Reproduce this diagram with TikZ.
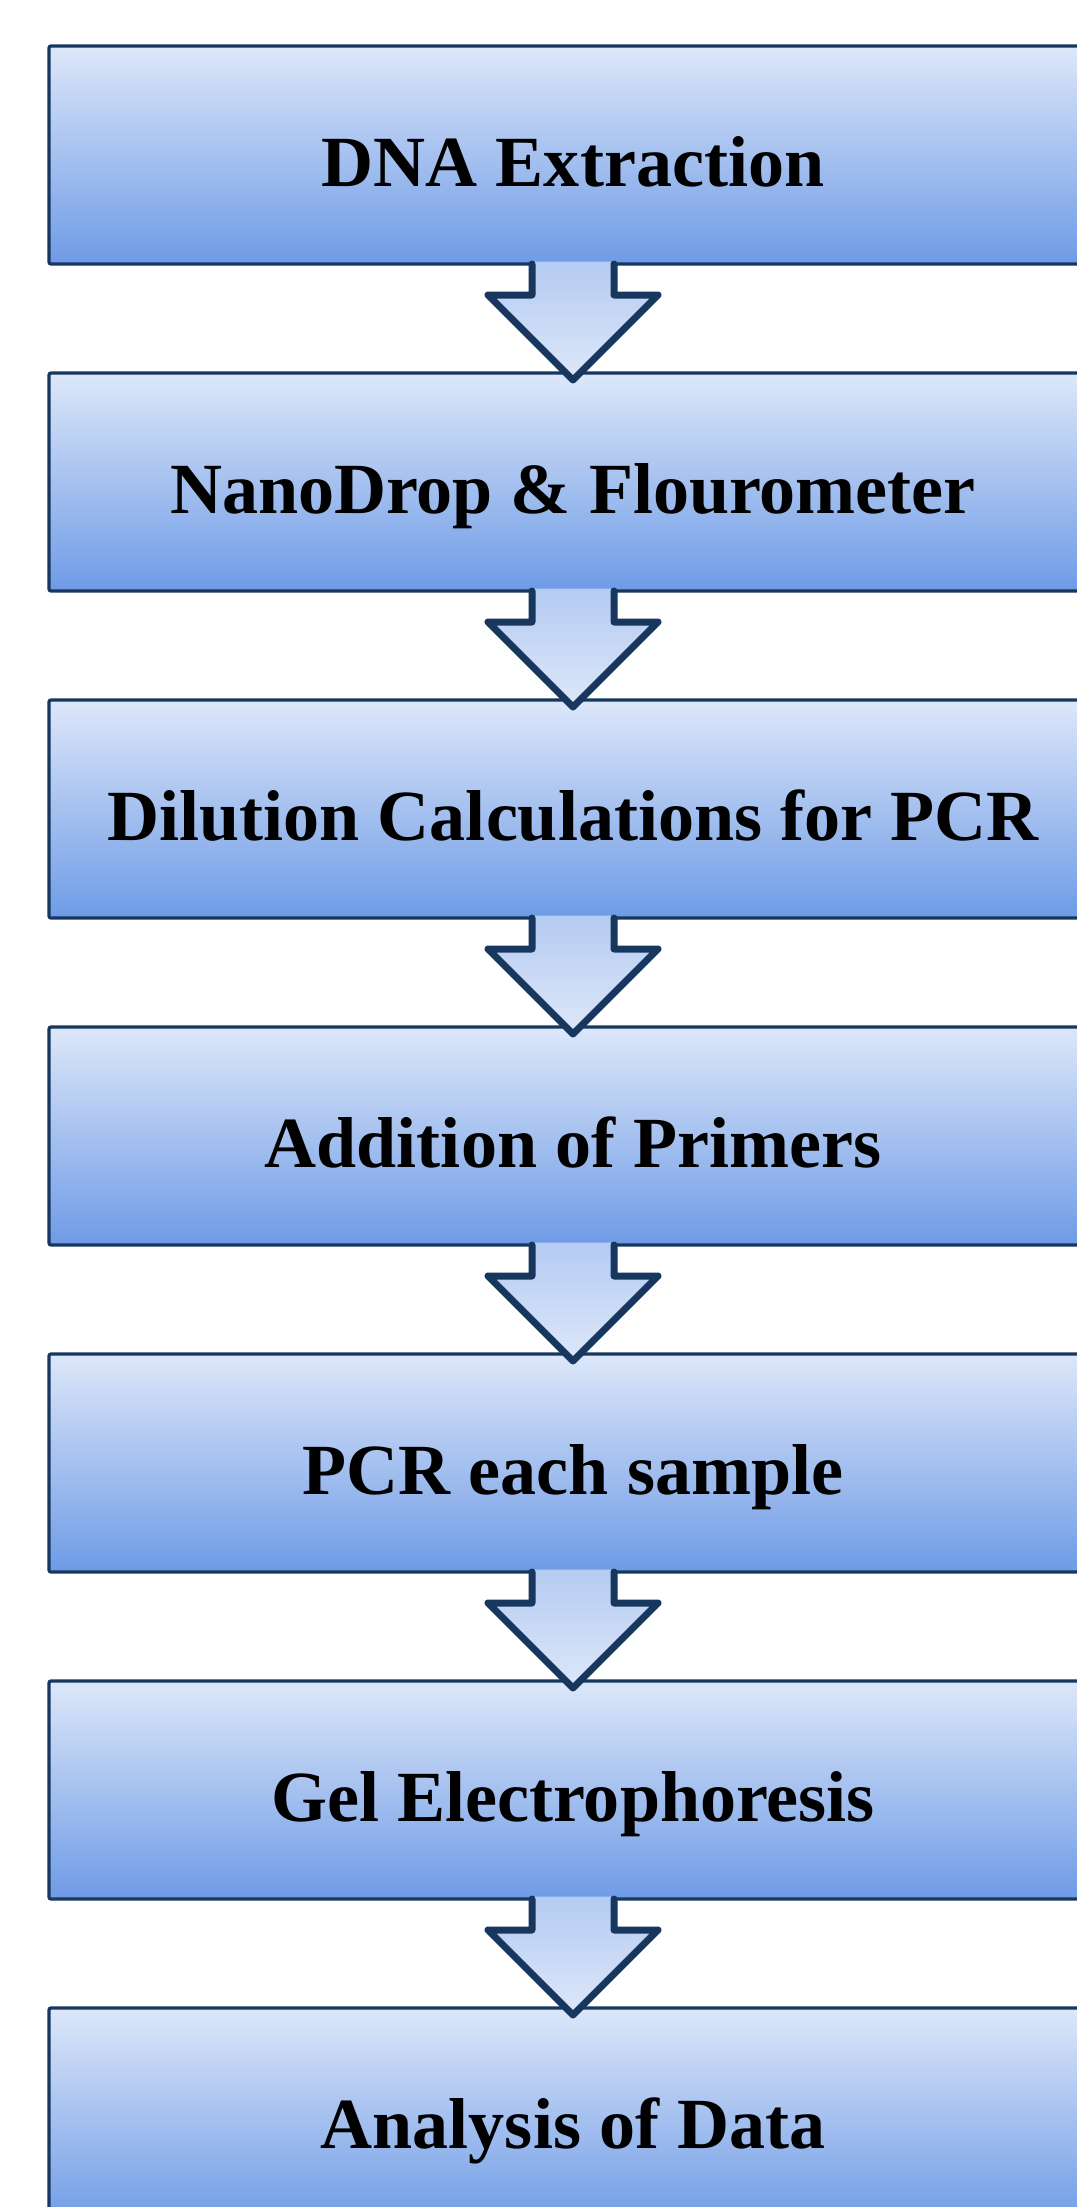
\documentclass[tikz,border=0pt]{standalone}
\usepackage{fontspec}
\setmainfont{Liberation Serif}
\usepackage{tikz}
\usetikzlibrary{arrows.meta, positioning, calc}
\definecolor{stepline}{HTML}{17375E}
\definecolor{steptop}{HTML}{DDE7F9}
\definecolor{stepmid}{HTML}{A8C2F0}
\definecolor{stepbot}{HTML}{6E9BE6}
\definecolor{arrowtop}{HTML}{B5CBF2}

\begin{document}
\begin{tikzpicture}[
        node distance=6.54cm,
        stepbox/.style={draw=stepline, line width=0.065cm, rounded corners=0.04cm,
            top color=steptop, middle color=stepmid, bottom color=stepbot,
            minimum width=20.96cm, minimum height=4.36cm, inner sep=0pt, outer sep=0pt,
            text height=1.26cm, text depth=0pt,
            font=\fontsize{41}{49}\selectfont\bfseries},
        arrowfill/.style={top color=arrowtop, bottom color=steptop, draw=none},
        arrowline/.style={draw=stepline, line width=0.14cm, line join=round, line cap=round}
    ]
        \useasboundingbox (0,0) rectangle (21.54,-44.14);

        \node[stepbox] (dna) at (11.46,-3.10) {DNA Extraction};
        \node[stepbox, below of=dna] (nano) {NanoDrop \& Flourometer};
        \node[stepbox, below of=nano] (dilution) {Dilution Calculations for PCR};
        \node[stepbox, below of=dilution] (primers) {Addition of Primers};
        \node[stepbox, below of=primers] (pcr) {PCR each sample};
        \node[stepbox, below of=pcr] (gel) {Gel Electrophoresis};
        \node[stepbox, below of=gel] (analysis) {Analysis of Data};

        % block arrows between the steps
        \foreach \a/\b in {dna/nano, nano/dilution, dilution/primers, primers/pcr, pcr/gel, gel/analysis} {
            \path[arrowfill] ($(\a.south)+(-0.82,0.05)$) -- ($(\a.south)+(-0.82,-0.62)$)
                -- ($(\a.south)+(-1.70,-0.62)$) -- ($(\b.north)+(0,-0.14)$)
                -- ($(\a.south)+(1.70,-0.62)$) -- ($(\a.south)+(0.82,-0.62)$)
                -- ($(\a.south)+(0.82,0.05)$) -- cycle;
            \draw[arrowline] ($(\a.south)+(-0.82,0)$) -- ($(\a.south)+(-0.82,-0.62)$)
                -- ($(\a.south)+(-1.70,-0.62)$) -- ($(\b.north)+(0,-0.14)$)
                -- ($(\a.south)+(1.70,-0.62)$) -- ($(\a.south)+(0.82,-0.62)$)
                -- ($(\a.south)+(0.82,0)$);
        }
    \end{tikzpicture}
\end{document}
